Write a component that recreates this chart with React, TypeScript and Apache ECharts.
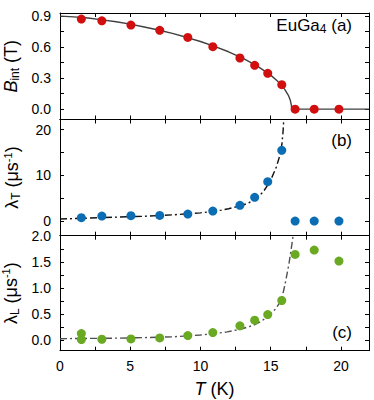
import React, { useEffect, useRef } from "react";
import * as echarts from "echarts";

// ---- data ----
const T_AB = [1.52, 2.98, 5.05, 7.1, 9.1, 10.88, 12.81, 13.86, 14.79, 15.79, 16.74, 18.1, 19.86];
const B_INT = [0.871, 0.854, 0.813, 0.762, 0.694, 0.604, 0.495, 0.424, 0.347, 0.237, 0, 0, 0];
const LAMBDA_T = [0.73, 1.09, 1.17, 1.24, 1.53, 2.19, 3.43, 5.18, 8.6, 15.47, 0, 0, 0];
const T_C = [1.52, 1.52, 2.98, 5.05, 7.1, 9.1, 10.88, 12.81, 13.86, 14.79, 15.79, 16.74, 18.1, 19.86];
const LAMBDA_L = [0.128, 0.013, 0.019, 0.026, 0.045, 0.089, 0.147, 0.275, 0.383, 0.492, 0.76, 1.642, 1.725, 1.514];

// fit curves
const FIT_A_T = [0, 1, 2, 3, 4, 5, 6, 7, 8, 9, 10, 11, 12, 13, 14, 15, 15.5, 16, 16.25, 16.4, 16.47, 16.5, 22];
const FIT_A_B = [0.9, 0.893, 0.881, 0.864, 0.845, 0.822, 0.795, 0.766, 0.733, 0.695, 0.654, 0.608, 0.555, 0.493, 0.421, 0.329, 0.269, 0.191, 0.136, 0.086, 0.04, 0, 0];
const FIT_B_T = [0, 2, 4, 6, 8, 10, 11, 11.5, 12, 12.8, 13.4, 13.9, 14.45, 14.8, 15.05, 15.4, 15.65, 15.8, 15.88, 15.93];
const FIT_B = [0.45, 0.65, 0.85, 1.05, 1.35, 1.8, 2.15, 2.4, 2.7, 3.3, 3.9, 4.8, 6.3, 7.9, 9.3, 11.8, 14.3, 16.8, 19.5, 22.2];
const FIT_C_T = [0, 2, 4, 6, 8, 10, 11.4, 11.9, 12.85, 13.8, 14.3, 14.75, 15.1, 15.35, 15.6, 15.8, 15.95, 16.1, 16.3, 16.5, 16.6];
const FIT_C = [0.03, 0.035, 0.04, 0.05, 0.065, 0.1, 0.14, 0.16, 0.21, 0.29, 0.36, 0.44, 0.53, 0.6, 0.7, 0.82, 0.98, 1.18, 1.46, 1.82, 2.0];

// ticks
const X_TICKS = [2.5, 5, 7.5, 10, 12.5, 15, 17.5, 20];
const X_LABELS = [0, 5, 10, 15, 20];
const YA_TICKS = [0, 0.15, 0.3, 0.45, 0.6, 0.75, 0.9];
const YA_LABELS = [0, 0.3, 0.6, 0.9];
const YB_TICKS = [0, 5, 10, 15, 20];
const YB_LABELS = [0, 10, 20];
const YC_TICKS = [0, 0.25, 0.5, 0.75, 1.0, 1.25, 1.5, 1.75, 2.0];
const YC_LABELS = [0, 0.5, 1.0, 1.5, 2.0];

const FONT = "'Liberation Sans', Arial, sans-serif";
const RED = "#d20f0f";
const BLUE = "#0b6db3";
const GREEN = "#6aaa22";

const zip = (xs: number[], ys: number[]) => xs.map((x, i) => [x, ys[i]]);

const nameRich = {
  i: { fontStyle: "italic", fontSize: 18, fontFamily: FONT, color: "#000", lineHeight: 20 },
  n: { fontSize: 18, fontFamily: FONT, color: "#000", lineHeight: 20 },
  sub: { fontSize: 12, fontFamily: FONT, color: "#000", lineHeight: 10, verticalAlign: "bottom" },
  sup: { fontSize: 11, fontFamily: FONT, color: "#000", lineHeight: 10, verticalAlign: "top" },
};

function xAxis(gridIndex: number, position: string, labels: boolean, name?: string) {
  return {
    type: "value",
    gridIndex,
    position,
    min: 0,
    max: 22,
    axisLine: { show: true, onZero: false, lineStyle: { color: "#000", width: 1 } },
    axisTick: { show: true, inside: true, length: 4, customValues: X_TICKS, lineStyle: { color: "#000", width: 1 } },
    axisLabel: {
      show: labels,
      customValues: X_LABELS,
      color: "#000",
      fontSize: 14,
      fontFamily: FONT,
      margin: 8,
    },
    splitLine: { show: false },
    name: name || "",
    nameLocation: "middle",
    nameGap: 28,
    nameTextStyle: { rich: nameRich },
  };
}

function yAxis(
  gridIndex: number,
  position: string,
  min: number,
  max: number,
  ticks: number[],
  labels: number[] | null,
  fmt: (v: number) => string,
  name?: string
) {
  return {
    type: "value",
    gridIndex,
    position,
    min,
    max,
    axisLine: { show: true, onZero: false, lineStyle: { color: "#000", width: 1 } },
    axisTick: { show: true, inside: true, length: 4, customValues: ticks, lineStyle: { color: "#000", width: 1 } },
    axisLabel: {
      show: !!labels,
      customValues: labels || [],
      color: "#000",
      fontSize: 14,
      fontFamily: FONT,
      margin: 9,
      formatter: fmt,
    },
    splitLine: { show: false },
    name: name || "",
    nameLocation: "middle",
    nameRotate: 90,
    nameGap: 38,
    nameTextStyle: { rich: nameRich },
  };
}

export default function App() {
  const ref = useRef<HTMLDivElement>(null);
  useEffect(() => {
    document.body.style.margin = "0";
    if (!ref.current) return;
    const chart = echarts.init(ref.current, undefined, { renderer: "svg" });
    const f1 = (v: number) => v.toFixed(1);
    const f0 = (v: number) => String(Math.round(v));
    const scatter = (xi: number, data: number[][], color: string) => ({
      type: "scatter",
      xAxisIndex: xi,
      yAxisIndex: xi,
      data,
      symbolSize: 9,
      itemStyle: { color, opacity: 1 },
      z: 3,
    });
    const line = (xi: number, data: number[][], color: string, type: any, width: number) => ({
      type: "line",
      xAxisIndex: xi,
      yAxisIndex: xi,
      data,
      showSymbol: false,
      symbol: "none",
      lineStyle: { color, type, width },
      clip: true,
      z: 2,
    });
    const dashDot = [7, 3, 2, 3];
    const gridBase = { left: 60, width: 309, outerBoundsMode: "none", containLabel: false };
    chart.setOption({
      animation: false,
      textStyle: { fontFamily: FONT },
      grid: [
        { ...gridBase, top: 13, height: 106.5 },
        { ...gridBase, top: 119.5, height: 116.2 },
        { ...gridBase, top: 235.7, height: 115 },
      ],
      xAxis: [
        xAxis(0, "bottom", false),
        xAxis(1, "bottom", false),
        xAxis(2, "bottom", true, "{i|T}{n| (K)}"),
        xAxis(0, "top", false),
        xAxis(1, "top", false),
        xAxis(2, "top", false),
      ],
      yAxis: [
        yAxis(0, "left", -0.1, 0.93, YA_TICKS, YA_LABELS, f1, "{i|B}{sub|int}{n| (T)}"),
        yAxis(1, "left", -3.2, 22.2, YB_TICKS, YB_LABELS, f0, "{n|λ}{sub|T}{n| (μs}{sup|-1}{n|)}"),
        yAxis(2, "left", -0.2, 2.0, YC_TICKS, YC_LABELS, f1, "{n|λ}{sub|L}{n| (μs}{sup|-1}{n|)}"),
        yAxis(0, "right", -0.1, 0.93, YA_TICKS, null, f1),
        yAxis(1, "right", -3.2, 22.2, YB_TICKS, null, f0),
        yAxis(2, "right", -0.2, 2.0, YC_TICKS, null, f1),
      ],
      series: [
        line(0, zip(FIT_A_T, FIT_A_B), "#404040", "solid", 1.4),
        scatter(0, zip(T_AB, B_INT), RED),
        line(1, zip(FIT_B_T, FIT_B), "#111", dashDot, 1.4),
        scatter(1, zip(T_AB, LAMBDA_T), BLUE),
        line(2, zip(FIT_C_T, FIT_C), "#505050", dashDot, 1.4),
        scatter(2, zip(T_C, LAMBDA_L), GREEN),
      ],
      graphic: [
        {
          type: "text",
          x: 352,
          y: 25,
          style: {
            text: "{n|EuGa}{sub|4}{n| (a)}",
            align: "right",
            verticalAlign: "middle",
            textAlign: "right",
            textVerticalAlign: "middle",
            rich: {
              n: { fontSize: 17, fontFamily: FONT, fill: "#000", color: "#000", lineHeight: 20 },
              sub: { fontSize: 12, fontFamily: FONT, fill: "#000", color: "#000", lineHeight: 10, verticalAlign: "bottom" },
            },
          },
        },
        {
          type: "text",
          x: 352,
          y: 140,
          style: { text: "(b)", font: `17px ${FONT}`, fill: "#000", align: "right", verticalAlign: "middle", textAlign: "right", textVerticalAlign: "middle" },
        },
        {
          type: "text",
          x: 352,
          y: 332,
          style: { text: "(c)", font: `17px ${FONT}`, fill: "#000", align: "right", verticalAlign: "middle", textAlign: "right", textVerticalAlign: "middle" },
        },
      ],
    });
    return () => chart.dispose();
  }, []);
  return <div ref={ref} style={{ width: 374, height: 400 }} />;
}
